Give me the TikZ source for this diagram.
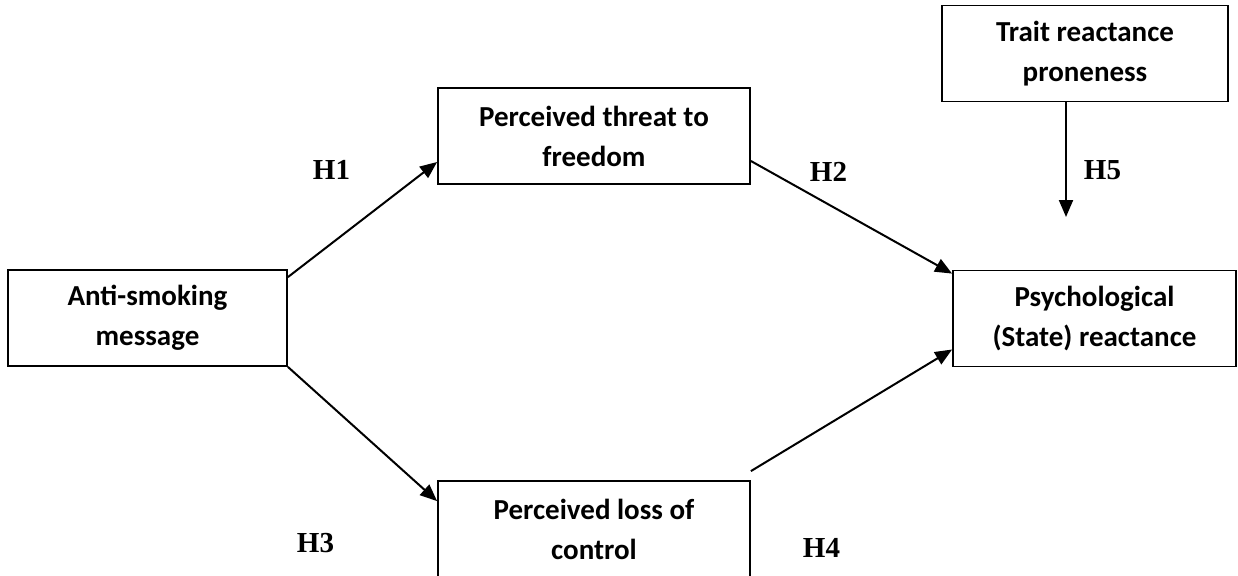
\documentclass[tikz,border=0pt]{standalone}
\usepackage{fontspec}
\usepackage{tikz}
\usetikzlibrary{arrows.meta}
\newfontfamily\boxfont{Carlito}
\newfontfamily\hypfont{Liberation Serif}

\tikzset{
  varbox/.style={draw, line width=1.8pt, inner sep=0pt, align=center,
    minimum height=96pt, font=\boxfont\bfseries\fontsize{29}{40}\selectfont},
  hyp/.style={font=\hypfont\bfseries\fontsize{29}{34}\selectfont},
  path/.style={line width=2pt, -{Triangle[length=17pt,width=14pt]}}
}

\begin{document}
\begin{tikzpicture}[x=1pt,y=-1pt]
  \useasboundingbox (0,0) rectangle (1238,575);

  % ---- Variables ----
  \node[varbox, minimum width=279pt] (anti)   at (147.5,318)  {Anti-smoking\\message};
  \node[varbox, minimum width=312pt] (threat) at (594,136)    {Perceived threat to\\freedom};
  \node[varbox, minimum width=312pt] (loss)   at (594,529)    {Perceived loss of\\control};
  \node[varbox, minimum width=283pt] (psych)  at (1094.5,318.5) {Psychological\\(State) reactance};
  \node[varbox, minimum width=286pt] (trait)  at (1085,53.5)  {Trait reactance\\proneness};
  \coordinate (mod) at (1066,217);

  % ---- Paths ----
  \draw[path] ([yshift=-8pt]anti.north east) -- ([yshift=-26pt]threat.west);
  \draw[path] (anti.south east) -- ([yshift=-21pt]loss.north west);
  \draw[path] ([yshift=-25pt]threat.east) -- ([yshift=-4pt]psych.north west);
  \draw[path] ([yshift=9pt]loss.north east) -- ([yshift=-31pt]psych.west);
  \draw[path] (trait.south -| mod) -- (mod);

  % ---- Hypotheses ----
  \node[hyp] (h1) at (331.5,170) {H1};
  \node[hyp] (h2) at (828.5,172) {H2};
  \node[hyp] (h3) at (315.5,543) {H3};
  \node[hyp] (h4) at (821.5,548) {H4};
  \node[hyp] (h5) at (1102.5,170) {H5};
\end{tikzpicture}
\end{document}
